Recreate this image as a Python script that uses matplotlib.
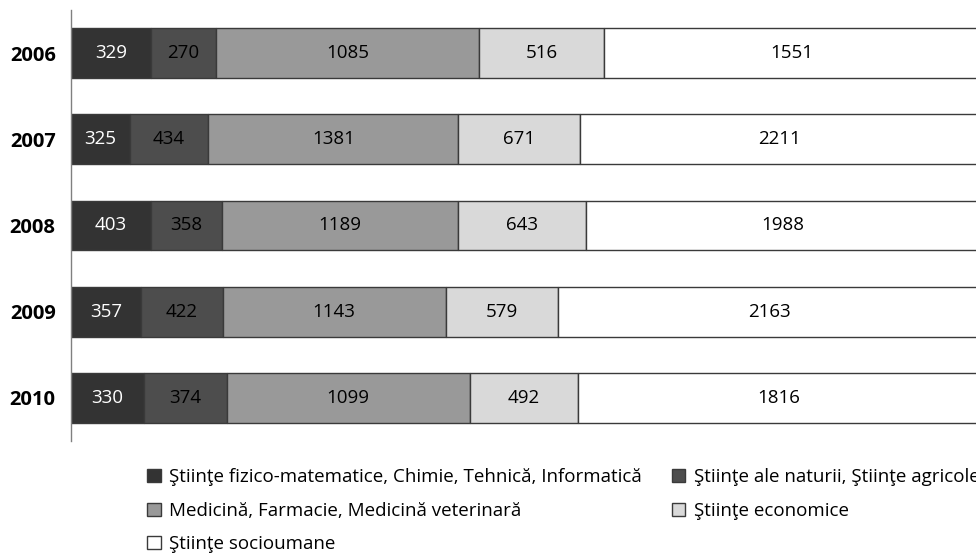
import matplotlib
matplotlib.use("Agg")
import matplotlib.pyplot as plt
from matplotlib.patches import Patch
import numpy as np

years = ["2006", "2007", "2008", "2009", "2010"]
categories = [
    "Ştiinţe fizico-matematice, Chimie, Tehnică, Informatică",
    "Ştiinţe ale naturii, Ştiinţe agricole",
    "Medicină, Farmacie, Medicină veterinară",
    "Ştiinţe economice",
    "Ştiinţe socioumane",
]
fizmat = [329, 325, 403, 357, 330]
natura = [270, 434, 358, 422, 374]
medicina = [1085, 1381, 1189, 1143, 1099]
economice = [516, 671, 643, 579, 492]
socioumane = [1551, 2211, 1988, 2163, 1816]

series = [fizmat, natura, medicina, economice, socioumane]
colors = ["#333333", "#4d4d4d", "#999999", "#d9d9d9", "#ffffff"]
text_colors = ["white", "black", "black", "black", "black"]

plt.rcParams['font.family'] = ['Open Sans', 'DejaVu Sans']

fig = plt.figure(figsize=(9.76, 5.53), dpi=100)
W, H = 976, 553
left_px, right_px = 71, 980
top_px, bot_px = 10, 441
ax = fig.add_axes([left_px / W, (H - bot_px) / H, (right_px - left_px) / W, (bot_px - top_px) / H])

data = np.array(series, dtype=float)
totals = data.sum(axis=0)
y = np.arange(len(years))
left = np.zeros(len(years))
for i, vals in enumerate(series):
    frac = np.array(vals) / totals
    ax.barh(y, frac, left=left, height=0.58, color=colors[i], edgecolor="#3a3a3a", linewidth=1.0)
    for j, v in enumerate(vals):
        ax.text(left[j] + frac[j] / 2, y[j], str(v), ha="center", va="center",
                fontsize=13.5, color=text_colors[i])
    left += frac

ax.set_xlim(0, 1)
ax.set_ylim(len(years) - 0.5, -0.5)
ax.set_yticks(y)
ax.set_yticklabels(years, fontsize=14.5, fontweight="bold")
ax.tick_params(axis="y", length=0, pad=11)
ax.set_xticks([])
for s in ["top", "right", "bottom"]:
    ax.spines[s].set_visible(False)
ax.spines["left"].set_color("#808080")
ax.spines["left"].set_linewidth(1.0)

handles = [Patch(facecolor=colors[i], edgecolor="#3a3a3a", linewidth=1.0, label=categories[i]) for i in range(5)]
order = [0, 2, 4, 1, 3]
fig.legend([handles[k] for k in order], [categories[k] for k in order],
           loc="upper left", bbox_to_anchor=(138 / W, 1 - 459 / H), ncol=2,
           frameon=False, fontsize=13.5, handlelength=0.7, handleheight=0.7,
           handletextpad=0.45, columnspacing=1.63, labelspacing=0.82, borderpad=0)

fig.savefig("out.png", dpi=100)
